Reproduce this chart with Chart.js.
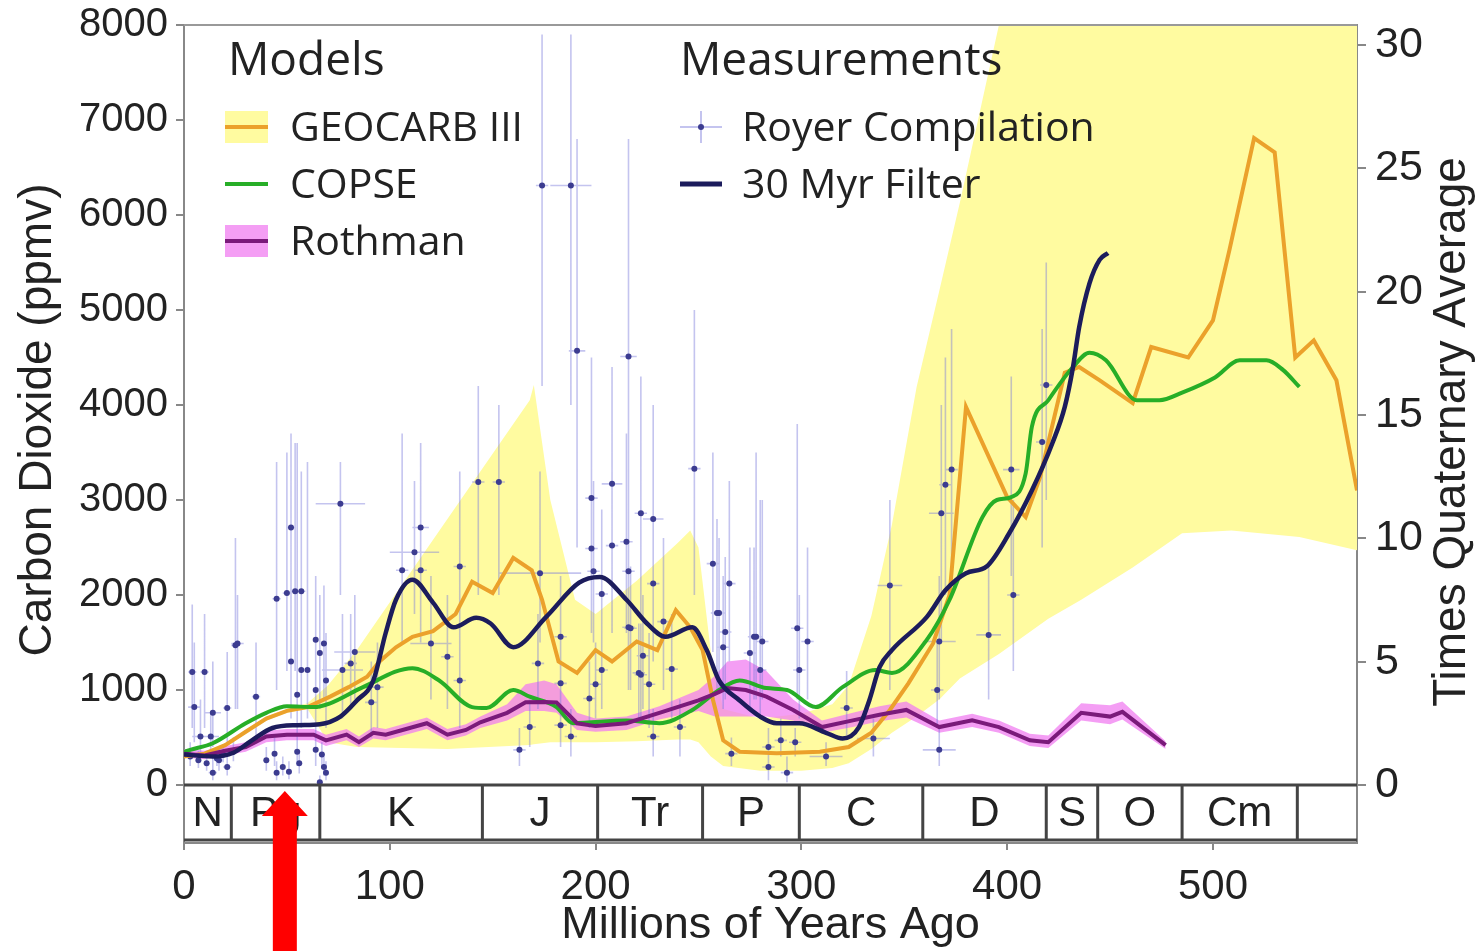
<!DOCTYPE html>
<html>
<head>
<meta charset="utf-8">
<script src="https://cdn.jsdelivr.net/npm/chart.js@4.4.1/dist/chart.umd.min.js"></script>
<style>
  html, body { margin: 0; padding: 0; background: #fff; overflow: hidden; }
  #wrap { width: 1483px; height: 951px; }
</style>
</head>
<body>
<div id="wrap"><canvas id="co2" width="1483" height="951"></canvas></div>
<script>
// Phanerozoic CO2: model curves, proxy compilation, geological periods.

// --- axes ---
const xTicks = [0, 100, 200, 300, 400, 500];
const yTicks = [0, 1000, 2000, 3000, 4000, 5000, 6000, 7000, 8000];
const y2Ticks = [0, 5, 10, 15, 20, 25, 30];

// --- periods (Myr) ---
const periodNames = ["N", "Pg", "K", "J", "Tr", "P", "C", "D", "S", "O", "Cm", ""];
const periodBounds = [0, 23, 66, 145, 201, 252, 299, 359, 419, 444, 485, 541, 570];
const arrowAge = 49;

// --- GEOCARB III ---
const geocarbAge = [0, 10, 20, 30, 40, 50, 60, 71, 80, 89, 95, 103, 111, 121, 132, 140, 150, 160, 169, 174,
  182, 191, 200, 208, 220, 230, 239, 246, 252, 257, 262, 270, 288, 309, 323, 334, 343, 352, 364, 372,
  380, 400, 409, 416, 428, 435, 445, 461, 470, 488, 500, 508, 520, 530, 540, 549, 560, 570];
const geocarbCO2 = [300, 330, 420, 560, 700, 780, 820, 930, 1030, 1140, 1300, 1450, 1560, 1620, 1800, 2140, 2020, 2390, 2260, 1950,
  1300, 1180, 1420, 1300, 1510, 1420, 1840, 1660, 1420, 900, 470, 350, 335, 350, 400, 550, 790, 1070, 1490, 2000,
  3980, 3030, 2820, 3240, 4340, 4400, 4260, 4020, 4610, 4500, 4890, 5630, 6810, 6660, 4500, 4680, 4260, 3100];
const geocarbBandAge = [0, 10, 20, 30, 40, 50, 60, 70, 84, 128, 168, 170, 178, 190, 200, 220, 240, 246, 250, 256,
  262, 280, 300, 315, 323, 334, 344, 356, 367, 377, 396, 420, 436, 461, 485, 509, 542, 570];
const geocarbHigh = [320, 350, 440, 580, 720, 800, 860, 1050, 1420, 2800, 4050, 4210, 3000, 1950, 1800, 2150, 2550, 2680, 2500, 1400,
  800, 700, 750, 850, 1050, 1780, 2740, 4190, 5200, 6130, 8000, 9500, 9500, 9500, 9500, 9500, 9500, 9500];
const geocarbLow = [290, 320, 400, 540, 680, 760, 800, 450, 400, 380, 420, 430, 450, 450, 450, 460, 480, 480, 450, 300,
  200, 150, 150, 180, 230, 380, 550, 720, 900, 1120, 1380, 1750, 1950, 2290, 2650, 2680, 2610, 2470];

// --- COPSE ---
const copseAge = [0, 3, 14, 30, 40, 50, 63, 71, 87, 111, 124, 140, 147, 160, 168, 181, 189, 215, 231, 247,
  260, 270, 283, 293, 307, 320, 336, 344, 361, 372, 388, 395, 402, 409, 412, 420, 432, 440, 448, 463,
  474, 485, 501, 513, 526, 534, 542];
const copseCO2 = [350, 370, 440, 650, 760, 830, 820, 860, 1030, 1230, 1100, 820, 810, 1000, 930, 820, 650, 680, 650, 790,
  1000, 1100, 1020, 1000, 820, 1030, 1210, 1180, 1530, 1950, 2820, 3000, 3030, 3280, 3770, 4050, 4400, 4550, 4470, 4050,
  4050, 4130, 4290, 4470, 4470, 4370, 4190];

// --- Rothman ---
const rothmanAge = [0, 10, 20, 30, 40, 50, 63, 69, 79, 85, 92, 98, 118, 128, 137, 144, 157, 166, 175, 181,
  191, 200, 215, 231, 250, 258, 264, 273, 283, 296, 310, 325, 338, 351, 367, 383, 396, 411, 420, 436,
  450, 456, 477];
const rothmanCO2 = [330, 310, 360, 400, 510, 530, 530, 470, 530, 450, 550, 530, 650, 530, 580, 660, 760, 870, 875, 870,
  650, 620, 650, 760, 890, 960, 1020, 1000, 930, 790, 610, 680, 740, 790, 610, 680, 610, 470, 450, 760,
  720, 770, 420];
const rothmanHigh = [380, 360, 410, 450, 570, 590, 590, 530, 590, 510, 610, 590, 710, 590, 640, 720, 850, 1060, 1100, 1060,
  760, 700, 720, 830, 1000, 1150, 1300, 1320, 1200, 900, 680, 760, 830, 880, 680, 750, 680, 540, 520, 860,
  840, 880, 460];
const rothmanLow = [290, 270, 310, 350, 450, 470, 470, 410, 470, 400, 490, 470, 590, 470, 520, 600, 680, 780, 780, 760,
  580, 560, 580, 690, 780, 720, 720, 720, 720, 680, 550, 610, 670, 710, 550, 610, 550, 410, 390, 680,
  640, 690, 380];

// --- 30 Myr filter ---
const filterAge = [0, 14, 24, 33, 43, 55, 66, 76, 84, 92, 98, 103, 111, 121, 131, 142, 149, 160, 176, 192,
  202, 215, 225, 234, 247, 254, 260, 270, 280, 288, 299, 312, 320, 328, 333, 338, 344, 361, 370, 380,
  390, 401, 412, 422, 428, 432, 435, 440, 445, 449];
const filterCO2 = [320, 300, 340, 470, 600, 630, 640, 720, 890, 1100, 1600, 1950, 2160, 1920, 1660, 1760, 1700, 1450, 1770, 2130,
  2190, 1950, 1700, 1560, 1660, 1420, 1100, 890, 720, 650, 650, 550, 490, 610, 890, 1240, 1420, 1770, 2050, 2230,
  2300, 2650, 3100, 3600, 3980, 4400, 4820, 5280, 5530, 5600];

// --- Royer compilation (age, CO2, error range) ---
const royerAge = [
  3, 4, 5, 7, 8, 10, 11, 13, 14, 14,
  16, 17, 19, 21, 21, 24, 25, 26, 35, 40,
  44, 45, 45, 48, 50, 51, 52, 52, 54, 55,
  55, 56, 57, 57, 60, 64, 64, 64, 66, 66,
  67, 68, 68, 69, 69, 76, 77, 81, 83, 91,
  94, 106, 112, 115, 115, 120, 128, 134, 134, 143,
  153, 163, 168, 172, 173, 174, 183, 183, 183, 188,
  188, 191, 197, 198, 198, 199, 200, 203, 203, 208,
  208, 215, 216, 216, 216, 217, 221, 222, 222, 223,
  226, 228, 228, 228, 233, 237, 241, 248, 257, 259,
  260, 262, 263, 265, 266, 275, 277, 278, 280, 281,
  284, 284, 290, 293, 297, 298, 299, 303, 312, 322,
  335, 343, 366, 367, 367, 368, 370, 373, 391, 402,
  403, 417, 419];
const royerCO2 = [
  300, 1190, 820, 260, 510, 1190, 230, 510, 760, 130,
  280, 260, 320, 190, 810, 350, 1470, 1490, 930, 260,
  330, 130, 1960, 190, 2020, 140, 1300, 2710, 2040, 950,
  350, 230, 2040, 1210, 1210, 1000, 1530, 370, 1390, 30,
  320, 1490, 190, 130, 1100, 2960, 1210, 1280, 1400, 870,
  1030, 2260, 2450, 2260, 2710, 1490, 1350, 2300, 1100, 3190,
  3190, 370, 610, 1280, 2230, 6310, 630, 1070, 1560, 6310,
  510, 4570, 910, 3020, 2490, 2250, 1060, 2010, 1210, 3170,
  2520, 2560, 4510, 2250, 1660, 1650, 1180, 2860, 1160, 1360,
  1060, 2800, 2120, 510, 1720, 1220, 610, 3330, 2330, 1810,
  1810, 1450, 1610, 2120, 330, 1390, 1560, 1560, 1210, 1510,
  400, 190, 470, 130, 450, 1650, 1210, 1510, 300, 810,
  490, 2100, 1000, 1510, 370, 2860, 3160, 3320, 1580, 3320,
  2000, 3610, 4210];
const royerLow = [
  200, 600, 450, 180, 300, 600, 150, 350, 400, 50,
  200, 150, 240, 100, 450, 250, 800, 800, 500, 150,
  200, 50, 1000, 100, 1200, 60, 700, 1500, 1200, 500,
  200, 120, 1200, 600, 700, 500, 900, 200, 800, 0,
  200, 900, 100, 50, 600, 2000, 700, 800, 900, 500,
  600, 1500, 1800, 1500, 2000, 900, 800, 1400, 600, 2000,
  2000, 200, 400, 800, 1500, 4200, 400, 700, 1000, 4000,
  300, 2500, 600, 1800, 1600, 1500, 700, 1300, 800, 2000,
  1600, 1600, 2500, 1400, 1000, 1000, 700, 1800, 700, 800,
  600, 1800, 1300, 300, 1000, 700, 300, 2000, 1400, 1000,
  1000, 800, 900, 1300, 200, 800, 900, 900, 700, 900,
  200, 50, 300, 30, 300, 900, 700, 900, 200, 500,
  300, 1000, 600, 900, 200, 1500, 2000, 2200, 900, 2200,
  1200, 2500, 3000];
const royerHigh = [
  450, 1900, 1500, 360, 900, 1800, 330, 750, 1300, 300,
  380, 400, 430, 300, 1400, 500, 2600, 2000, 1500, 400,
  500, 250, 3400, 300, 3500, 250, 3700, 3700, 3600, 3600,
  500, 350, 3300, 2800, 3400, 1500, 2200, 500, 2000, 100,
  450, 2100, 300, 250, 1600, 3400, 1800, 1800, 2000, 1300,
  1500, 3700, 3200, 3600, 3100, 2200, 2000, 3300, 1700, 4200,
  4000, 600, 900, 1800, 3300, 7900, 900, 1500, 2200, 7900,
  800, 6800, 1300, 4500, 3500, 3200, 1500, 2900, 1700, 4400,
  3600, 3700, 6800, 3300, 2400, 2300, 1700, 4300, 1700, 2000,
  1600, 4000, 3100, 800, 2600, 1800, 900, 5000, 3500, 2800,
  2600, 2200, 2400, 3200, 500, 2500, 2500, 3500, 3000, 3000,
  600, 350, 700, 300, 600, 3800, 2000, 2500, 450, 1200,
  700, 3000, 1500, 2200, 600, 4000, 4500, 4800, 2300, 4300,
  3000, 4800, 5500];
const royerAgeErr = [
  1, 2, 3, 1, 4, 2, 1, 4, 4, 2,
  1, 2, 1, 2, 2, 1, 2, 3, 2, 1,
  1, 1, 2, 1, 2, 1, 1, 2, 2, 1,
  1, 1, 2, 1, 1, 1, 1, 1, 1, 1,
  1, 1, 1, 1, 1, 12, 10, 3, 10, 3,
  3, 3, 12, 3, 4, 10, 3, 3, 3, 3,
  3, 3, 3, 3, 20, 3, 3, 3, 3, 10,
  3, 4, 3, 3, 3, 3, 3, 3, 3, 5,
  3, 3, 4, 3, 3, 3, 3, 3, 3, 3,
  3, 5, 3, 3, 3, 3, 3, 3, 3, 3,
  3, 3, 3, 3, 3, 3, 3, 3, 3, 3,
  3, 3, 3, 3, 3, 3, 3, 3, 8, 3,
  8, 6, 3, 8, 8, 6, 3, 3, 6, 4,
  3, 3, 3];

const pts = (xs, ys) => xs.map((x, i) => ({ x: x, y: ys[i] }));

const C = {
  geocarb: "#eba12b", geocarbBand: "rgb(255,251,160)",
  copse: "#27ae27",
  rothman: "#7a1a7a", rothmanBand: "rgba(240,125,240,0.75)",
  filter: "#1c1c5c",
  royerDot: "#3c3c90", royerBar: "rgba(125,125,220,0.45)",
  axis: "#888", text: "#222",
};
const SANS = '"Liberation Sans", Arial, sans-serif';
const LEG = '"Open Sans", "Noto Sans", sans-serif';

// --- error bars under the Royer dots ---
const errorBars = {
  id: "errorBars",
  beforeDatasetDraw(chart, args) {
    if (chart.data.datasets[args.index].label !== "Royer Compilation") return;
    const { ctx, chartArea: a, scales: { x, y } } = chart;
    const zero = y.getPixelForValue(0);
    ctx.save();
    ctx.beginPath();
    ctx.rect(a.left, a.top, a.width, zero - a.top);
    ctx.clip();
    ctx.strokeStyle = C.royerBar;
    ctx.lineWidth = 1.6;
    ctx.beginPath();
    royerAge.forEach((age, i) => {
      const px = x.getPixelForValue(age), py = y.getPixelForValue(royerCO2[i]);
      ctx.moveTo(px, y.getPixelForValue(royerLow[i]));
      ctx.lineTo(px, y.getPixelForValue(royerHigh[i]));
      ctx.moveTo(x.getPixelForValue(age - royerAgeErr[i]), py);
      ctx.lineTo(x.getPixelForValue(age + royerAgeErr[i]), py);
    });
    ctx.stroke();
    ctx.restore();
  },
};

function vTitle(ctx, text, cx, cy) {
  ctx.save();
  ctx.translate(cx, cy);
  ctx.rotate(-Math.PI / 2);
  ctx.fillText(text, 0, 0);
  ctx.restore();
}

// --- period strip, frame top, titles, legend ---
const decorations = {
  id: "decorations",
  afterDatasetsDraw(chart) {
    const { ctx, chartArea: a, scales: { x, y } } = chart;
    const top = y.getPixelForValue(0), bottom = a.bottom - 3;
    ctx.save();
    // top frame
    ctx.strokeStyle = "#999";
    ctx.lineWidth = 2;
    ctx.beginPath();
    ctx.moveTo(a.left, a.top); ctx.lineTo(a.right, a.top);
    ctx.stroke();
    // period boxes
    ctx.strokeStyle = "#444";
    ctx.lineWidth = 3;
    ctx.beginPath();
    ctx.moveTo(a.left, top); ctx.lineTo(a.right, top);
    ctx.moveTo(a.left, bottom); ctx.lineTo(a.right, bottom);
    periodBounds.slice(1, -1).forEach((b) => {
      const px = x.getPixelForValue(b);
      ctx.moveTo(px, top); ctx.lineTo(px, bottom);
    });
    ctx.stroke();
    ctx.fillStyle = C.text;
    ctx.font = "42px " + SANS;
    ctx.textAlign = "center";
    ctx.textBaseline = "middle";
    periodNames.forEach((n, i) => {
      const cx = x.getPixelForValue((periodBounds[i] + periodBounds[i + 1]) / 2);
      ctx.fillText(n, cx, (top + bottom) / 2 + 2);
    });

    // vertical axis titles (both read bottom-to-top)
    ctx.font = "46px " + SANS;
    vTitle(ctx, "Carbon Dioxide (ppmv)", a.left - 146, a.top + 395);
    vTitle(ctx, "Times Quaternary Average", a.right + 95, a.top + 407);

    // legend
    const L = a.left, T = a.top;
    ctx.textAlign = "left";
    ctx.font = "46px " + LEG;
    ctx.fillText("Models", L + 44, T + 37);
    ctx.fillText("Measurements", L + 496, T + 37);
    ctx.font = "41px " + LEG;
    const rows = [T + 102, T + 159, T + 216];
    ctx.fillStyle = C.geocarbBand;
    ctx.fillRect(L + 41, rows[0] - 16, 43, 32);
    ctx.fillStyle = C.rothmanBand;
    ctx.fillRect(L + 41, rows[2] - 16, 43, 32);
    [[C.geocarb, "GEOCARB III"], [C.copse, "COPSE"], [C.rothman, "Rothman"]].forEach(([col, txt], i) => {
      ctx.strokeStyle = col;
      ctx.lineWidth = 4;
      ctx.beginPath();
      ctx.moveTo(L + 41, rows[i]); ctx.lineTo(L + 84, rows[i]);
      ctx.stroke();
      ctx.fillStyle = C.text;
      ctx.fillText(txt, L + 106, rows[i] + 2);
    });
    const rx = L + 517;
    ctx.strokeStyle = C.royerBar;
    ctx.lineWidth = 2;
    ctx.beginPath();
    ctx.moveTo(rx - 21, rows[0]); ctx.lineTo(rx + 21, rows[0]);
    ctx.moveTo(rx, rows[0] - 16); ctx.lineTo(rx, rows[0] + 16);
    ctx.stroke();
    ctx.fillStyle = C.royerDot;
    ctx.beginPath();
    ctx.arc(rx, rows[0], 3, 0, Math.PI * 2);
    ctx.fill();
    ctx.strokeStyle = C.filter;
    ctx.lineWidth = 5;
    ctx.beginPath();
    ctx.moveTo(L + 496, rows[1]); ctx.lineTo(L + 538, rows[1]);
    ctx.stroke();
    ctx.fillStyle = C.text;
    ctx.fillText("Royer Compilation", L + 558, rows[0] + 2);
    ctx.fillText("30 Myr Filter", L + 558, rows[1] + 2);
    ctx.restore();
  },
  afterDraw(chart) {
    // red arrow pointing at the Paleogene
    const { ctx, scales: { x, y } } = chart;
    const ax = x.getPixelForValue(arrowAge);
    const tip = y.getPixelForValue(0) + 6;
    ctx.save();
    ctx.fillStyle = "#ff0000";
    ctx.beginPath();
    ctx.moveTo(ax, tip);
    ctx.lineTo(ax + 23, tip + 25);
    ctx.lineTo(ax + 12, tip + 25);
    ctx.lineTo(ax + 12, chart.height);
    ctx.lineTo(ax - 12, chart.height);
    ctx.lineTo(ax - 12, tip + 25);
    ctx.lineTo(ax - 23, tip + 25);
    ctx.closePath();
    ctx.fill();
    ctx.restore();
  },
};

const line = (label, data, color, width, order, smooth) => ({
  label, data, order,
  borderColor: color, borderWidth: width,
  pointRadius: 0, fill: false,
  tension: 0, cubicInterpolationMode: smooth ? "monotone" : "default",
});
const band = (label, data, color, order, fill) => ({
  label, data, order, fill,
  backgroundColor: color, borderWidth: 0, pointRadius: 0,
});
// fixed box sizes so the plot area sits where the reference has it
const fixV = (w) => (s) => { s.width = w; s.paddingTop = 0; s.paddingBottom = 0; };

Chart.defaults.font.family = SANS;
Chart.defaults.color = C.text;

new Chart(document.getElementById("co2"), {
  type: "line",
  data: {
    datasets: [
      line("30 Myr Filter", pts(filterAge, filterCO2), C.filter, 4.5, 0, true),
      line("Rothman", pts(rothmanAge, rothmanCO2), C.rothman, 4, 1, false),
      line("COPSE", pts(copseAge, copseCO2), C.copse, 4, 2, true),
      line("GEOCARB III", pts(geocarbAge, geocarbCO2), C.geocarb, 4, 3, false),
      {
        label: "Royer Compilation", data: pts(royerAge, royerCO2), order: 4,
        showLine: false, pointRadius: 3, pointBackgroundColor: C.royerDot, pointBorderWidth: 0,
      },
      band("Rothman high", pts(rothmanAge, rothmanHigh), C.rothmanBand, 5, "+1"),
      band("Rothman low", pts(rothmanAge, rothmanLow), C.rothmanBand, 5, false),
      band("GEOCARB high", pts(geocarbBandAge, geocarbHigh), C.geocarbBand, 6, "+1"),
      band("GEOCARB low", pts(geocarbBandAge, geocarbLow), C.geocarbBand, 6, false),
    ],
  },
  options: {
    responsive: false,
    devicePixelRatio: 1,
    animation: false,
    events: [],
    layout: { padding: { top: 25, left: 0, right: 0, bottom: 0 } },
    plugins: { legend: { display: false }, tooltip: { enabled: false } },
    scales: {
      x: {
        type: "linear", min: 0, max: 570, position: "bottom",
        afterBuildTicks: (s) => { s.ticks = xTicks.map((v) => ({ value: v })); },
        afterFit: (s) => { s.height = 108; s.paddingLeft = 0; s.paddingRight = 0; },
        grid: { drawOnChartArea: false, tickLength: 7, color: C.axis, lineWidth: 2 },
        border: { color: C.axis, width: 2 },
        ticks: { font: { size: 42 }, padding: 12, maxRotation: 0, autoSkip: false, callback: (v) => String(v) },
        title: { display: true, text: "Millions of Years Ago", font: { size: 45 }, padding: { top: 0, bottom: -2 } },
      },
      y: {
        position: "left", min: -610.5, max: 8000,
        afterBuildTicks: (s) => { s.ticks = yTicks.map((v) => ({ value: v })); },
        afterFit: fixV(184),
        grid: { drawOnChartArea: false, tickLength: 8, color: C.axis, lineWidth: 2 },
        border: { color: C.axis, width: 2 },
        ticks: { font: { size: 40 }, padding: 8, callback: (v) => String(v) },
      },
      y2: {
        position: "right", min: -2.351, max: 30.81,
        afterBuildTicks: (s) => { s.ticks = y2Ticks.map((v) => ({ value: v })); },
        afterFit: fixV(126),
        grid: { drawOnChartArea: false, tickLength: 9, color: C.axis, lineWidth: 2 },
        border: { color: C.axis, width: 2 },
        ticks: { font: { size: 43 }, padding: 9, callback: (v) => String(v) },
      },
    },
  },
  plugins: [errorBars, decorations],
});
</script>
</body>
</html>
